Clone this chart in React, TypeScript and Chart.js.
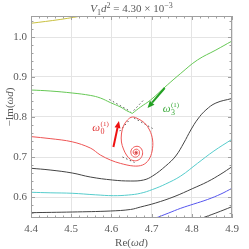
import React, { useEffect, useRef } from "react";
import { Chart, registerables } from "chart.js";

Chart.register(...registerables);

// ---- data ----
const xTicks = [4.4, 4.5, 4.6, 4.7, 4.8, 4.9];
const yTicks = [0.6, 0.7, 0.8, 0.9, 1.0];
const xMinor = [4.42, 4.44, 4.46, 4.48, 4.52, 4.54, 4.56, 4.58, 4.62, 4.64, 4.66, 4.68, 4.72, 4.74, 4.76, 4.78, 4.82, 4.84, 4.86, 4.88];
const yMinor = [0.56, 0.58, 0.62, 0.64, 0.66, 0.68, 0.72, 0.74, 0.76, 0.78, 0.82, 0.84, 0.86, 0.88, 0.92, 0.94, 0.96, 0.98, 1.02, 1.04];

const yellowCurve = [[4.4, 1.0343], [4.4725, 1.0438], [4.5375, 1.0545]];

const greenLeft = [
  [4.4, 0.8675], [4.4475, 0.865], [4.5025, 0.86], [4.5475, 0.854], [4.5725, 0.8475],
  [4.5975, 0.836], [4.6225, 0.825], [4.6375, 0.816], [4.652, 0.809],
];
const greenRight = [
  [4.652, 0.809], [4.6725, 0.825], [4.6975, 0.8425], [4.739, 0.88], [4.7725, 0.909],
  [4.814, 0.9425], [4.86, 0.9675], [4.9, 0.99],
];

const redCurve = [
  [4.4, 0.751], [4.4475, 0.746], [4.5025, 0.738], [4.5475, 0.7225], [4.5725, 0.705],
  [4.5975, 0.6925], [4.6225, 0.684], [4.655, 0.6775], [4.6775, 0.68], [4.6925, 0.6925],
  [4.7013, 0.715], [4.7025, 0.7425], [4.695, 0.7675], [4.6825, 0.785], [4.6675, 0.795],
  [4.652, 0.8], [4.64, 0.7925], [4.63, 0.7775], [4.625, 0.7575], [4.625, 0.7375],
  [4.63, 0.72], [4.6375, 0.705], [4.6475, 0.694], [4.66, 0.6905], [4.6715, 0.6955],
  [4.6775, 0.7075], [4.675, 0.72], [4.6665, 0.7265], [4.6555, 0.7245], [4.6485, 0.715],
  [4.651, 0.704], [4.66, 0.6995], [4.6685, 0.7045], [4.6695, 0.7145], [4.6635, 0.7195],
  [4.6555, 0.7165], [4.6545, 0.7095], [4.66, 0.7055], [4.6655, 0.709], [4.6635, 0.7145],
  [4.659, 0.7135], [4.659, 0.709], [4.6625, 0.709], [4.6613, 0.7105],
];
const spiralCenter = [[4.6613, 0.7105]];

const black1 = [
  [4.4, 0.6718], [4.4475, 0.6675], [4.5025, 0.66], [4.5475, 0.65], [4.6025, 0.6425],
  [4.6475, 0.64], [4.68, 0.6425], [4.7025, 0.6525], [4.735, 0.6775], [4.76, 0.7025],
  [4.78, 0.735], [4.7975, 0.7675], [4.815, 0.795], [4.835, 0.8175], [4.86, 0.835], [4.9, 0.8463],
];
const cyanCurve = [
  [4.4, 0.6118], [4.4475, 0.6105], [4.5025, 0.6093], [4.56, 0.6055], [4.605, 0.6033],
  [4.6425, 0.605], [4.6725, 0.6093], [4.7025, 0.6188], [4.735, 0.6325], [4.7725, 0.6525],
  [4.8143, 0.6843], [4.855, 0.715], [4.9, 0.7443],
];
const black2 = [
  [4.4, 0.5608], [4.5025, 0.5625], [4.5975, 0.565], [4.6475, 0.5688], [4.6725, 0.575],
  [4.71, 0.585], [4.7558, 0.6008], [4.8025, 0.6213], [4.8393, 0.6383], [4.8725, 0.6575], [4.9, 0.6758],
];
const blueCurve = [
  [4.7075, 0.5463], [4.7425, 0.56], [4.7725, 0.5718], [4.805, 0.5825], [4.8393, 0.5938],
  [4.8725, 0.6075], [4.9, 0.6218],
];
const black3 = [[4.8225, 0.5463], [4.86, 0.56], [4.9, 0.5758]];

const dash1 = [[4.595, 0.8438], [4.6475, 0.8138]];
const dash2 = [[4.6555, 0.8163], [4.6813, 0.8438]];
const dash3 = [[4.6563, 0.7975], [4.7025, 0.7713]];
const dash4 = [[4.6425, 0.79], [4.6175, 0.7613]];
const dash5 = [[4.6275, 0.70], [4.6575, 0.6863]];

const redArrow = [[4.605, 0.725], [4.6188, 0.79]];
const greenArrow = [[4.7325, 0.8725], [4.69, 0.8225]];
const redLabelAt = [4.5525, 0.765];
const greenLabelAt = [4.7275, 0.8125];

const titleParts = ["V", "1", "d", "2", " = 4.30 \u00d7 10", "\u22123"];
const xTitle = ["Re(", "\u03c9d", ")"];
const yTitle = ["\u2212Im(", "\u03c9d", ")"];

// ---- styles ----
const FONT = '"Liberation Serif", "DejaVu Serif", serif';
const TEXT = "#5a5a5a";
const GRID = "#e4e4e4";
const FRAME = "#a0a0a0";

const toPts = (arr: number[][]) => arr.map(([x, y]) => ({ x, y }));

type Part = { t: string; italic?: boolean; size: number; dy: number };

function drawRich(ctx: CanvasRenderingContext2D, parts: Part[], x: number, y: number, color: string, align: "left" | "center") {
  let total = 0;
  const widths = parts.map((p) => {
    ctx.font = `${p.italic ? "italic " : ""}${p.size}px ${FONT}`;
    const w = ctx.measureText(p.t).width;
    total += w;
    return w;
  });
  let cx = align === "center" ? x - total / 2 : x;
  ctx.fillStyle = color;
  ctx.textBaseline = "alphabetic";
  ctx.textAlign = "left";
  parts.forEach((p, i) => {
    ctx.font = `${p.italic ? "italic " : ""}${p.size}px ${FONT}`;
    ctx.fillText(p.t, cx, y + p.dy);
    cx += widths[i];
  });
}

function drawArrow(ctx: CanvasRenderingContext2D, x0: number, y0: number, x1: number, y1: number, color: string) {
  const ang = Math.atan2(y1 - y0, x1 - x0);
  const hl = 7, hw = 3;
  const bx = x1 - hl * Math.cos(ang), by = y1 - hl * Math.sin(ang);
  ctx.strokeStyle = color;
  ctx.fillStyle = color;
  ctx.lineWidth = 2;
  ctx.beginPath();
  ctx.moveTo(x0, y0);
  ctx.lineTo(bx, by);
  ctx.stroke();
  ctx.beginPath();
  ctx.moveTo(x1, y1);
  ctx.lineTo(bx + hw * Math.sin(ang), by - hw * Math.cos(ang));
  ctx.lineTo(bx - hw * Math.sin(ang), by + hw * Math.cos(ang));
  ctx.closePath();
  ctx.fill();
}

const overlayPlugin = {
  id: "overlay",
  afterDraw(chart: any) {
    const { ctx, chartArea: a, scales } = chart;
    const sx = scales.x, sy = scales.y;
    ctx.save();
    // frame
    ctx.strokeStyle = FRAME;
    ctx.lineWidth = 1;
    ctx.strokeRect(Math.round(a.left) + 0.5, Math.round(a.top) + 0.5, Math.round(a.right - a.left) - 1, Math.round(a.bottom - a.top) - 1);
    // ticks
    const tick = (vals: number[], len: number) => {
      vals.forEach((v) => {
        const px = Math.round(sx.getPixelForValue(v)) + 0.5;
        ctx.beginPath();
        ctx.moveTo(px, a.bottom); ctx.lineTo(px, a.bottom - len);
        ctx.moveTo(px, a.top); ctx.lineTo(px, a.top + len);
        ctx.stroke();
      });
    };
    const tickY = (vals: number[], len: number) => {
      vals.forEach((v) => {
        const py = Math.round(sy.getPixelForValue(v)) + 0.5;
        ctx.beginPath();
        ctx.moveTo(a.left, py); ctx.lineTo(a.left + len, py);
        ctx.moveTo(a.right, py); ctx.lineTo(a.right - len, py);
        ctx.stroke();
      });
    };
    tick(xTicks, 4); tick(xMinor, 2.5);
    tickY(yTicks, 4); tickY(yMinor, 2.5);

    // arrows
    ctx.save();
    ctx.beginPath();
    ctx.rect(a.left, a.top, a.right - a.left, a.bottom - a.top);
    ctx.clip();
    drawArrow(ctx, sx.getPixelForValue(redArrow[0][0]), sy.getPixelForValue(redArrow[0][1]),
      sx.getPixelForValue(redArrow[1][0]), sy.getPixelForValue(redArrow[1][1]), "#ee1111");
    drawArrow(ctx, sx.getPixelForValue(greenArrow[0][0]), sy.getPixelForValue(greenArrow[0][1]),
      sx.getPixelForValue(greenArrow[1][0]), sy.getPixelForValue(greenArrow[1][1]), "#22a022");
    ctx.restore();

    // omega labels
    const omegaLabel = (at: number[], sub: string, color: string) => {
      const px = sx.getPixelForValue(at[0]);
      const py = sy.getPixelForValue(at[1]);
      ctx.fillStyle = color;
      ctx.textAlign = "left";
      ctx.textBaseline = "alphabetic";
      ctx.font = `italic 11px ${FONT}`;
      ctx.fillText("\u03c9", px, py);
      const w = ctx.measureText("\u03c9").width;
      ctx.font = `8px ${FONT}`;
      ctx.fillText(sub, px + w + 0.5, py + 2.5);
      ctx.font = `7px ${FONT}`;
      ctx.fillText("(1)", px + w + 0.5, py - 5);
    };
    omegaLabel(redLabelAt, "0", "#e03535");
    omegaLabel(greenLabelAt, "3", "#3aaa3a");

    // title
    const cx = (a.left + a.right) / 2;
    drawRich(ctx, [
      { t: titleParts[0], italic: true, size: 11, dy: 0 },
      { t: titleParts[1], size: 8, dy: 2.5 },
      { t: titleParts[2], italic: true, size: 11, dy: 0 },
      { t: titleParts[3], size: 8, dy: -4.5 },
      { t: titleParts[4], size: 11, dy: 0 },
      { t: titleParts[5], size: 8, dy: -4.5 },
    ], cx, 12, TEXT, "center");

    // x title
    drawRich(ctx, [
      { t: xTitle[0], size: 11, dy: 0 },
      { t: xTitle[1], italic: true, size: 11, dy: 0 },
      { t: xTitle[2], size: 11, dy: 0 },
    ], cx, 246, TEXT, "center");

    // y title
    ctx.save();
    ctx.translate(13, (a.top + a.bottom) / 2 - 10);
    ctx.rotate(-Math.PI / 2);
    drawRich(ctx, [
      { t: yTitle[0], size: 11, dy: 0 },
      { t: yTitle[1], italic: true, size: 11, dy: 0 },
      { t: yTitle[2], size: 11, dy: 0 },
    ], 0, 0, TEXT, "center");
    ctx.restore();

    ctx.restore();
  },
};

const line = (pts: number[][], color: string, extra: any = {}) => ({
  data: toPts(pts),
  showLine: true,
  borderColor: color,
  backgroundColor: color,
  borderWidth: 1,
  pointRadius: 0,
  tension: 0.4,
  ...extra,
});

export default function App() {
  const ref = useRef<HTMLCanvasElement | null>(null);
  useEffect(() => {
    document.body.style.margin = "0";
    const canvas = ref.current;
    if (!canvas) return;
    const dashed = { borderDash: [1.5, 2.5], tension: 0, borderColor: "#555555" };
    const chart = new Chart(canvas, {
      type: "scatter",
      data: {
        datasets: [
          line(yellowCurve, "#c9c040"),
          line(greenLeft, "#66c855"),
          line(greenRight, "#66c855"),
          line(black1, "#444444"),
          line(cyanCurve, "#55cccc"),
          line(black2, "#444444"),
          line(blueCurve, "#5555ee"),
          line(black3, "#444444"),
          line(redCurve, "#ee5555", { tension: 0.35 }),
          line(spiralCenter, "#880000", { showLine: false, pointRadius: 0.9, borderWidth: 0 }),
          line(dash1, "#555555", dashed),
          line(dash2, "#555555", dashed),
          line(dash3, "#555555", dashed),
          line(dash4, "#555555", dashed),
          line(dash5, "#555555", dashed),
        ] as any,
      },
      options: {
        animation: false,
        responsive: false,
        maintainAspectRatio: false,
        events: [],
        layout: { padding: { top: 16, right: 17, left: 0, bottom: 0 } },
        plugins: { legend: { display: false }, tooltip: { enabled: false }, title: { display: false } },
        scales: {
          x: {
            type: "linear",
            min: 4.4,
            max: 4.9,
            afterBuildTicks: (s: any) => { s.ticks = xTicks.map((v) => ({ value: v })); },
            afterFit: (s: any) => { s.height = 31; },
            grid: { color: GRID, drawTicks: false },
            border: { display: false },
            ticks: {
              padding: 5,
              color: TEXT,
              font: { family: FONT, size: 11 },
              maxRotation: 0,
              autoSkip: false,
              callback: (v: any) => Number(v).toFixed(1),
            },
          },
          y: {
            type: "linear",
            min: 0.5475,
            max: 1.0525,
            afterBuildTicks: (s: any) => { s.ticks = yTicks.map((v) => ({ value: v })); },
            afterFit: (s: any) => { s.width = 31; },
            grid: { color: GRID, drawTicks: false },
            border: { display: false },
            ticks: {
              padding: 4,
              color: TEXT,
              font: { family: FONT, size: 11 },
              autoSkip: false,
              callback: (v: any) => Number(v).toFixed(1),
            },
          },
        },
      } as any,
      plugins: [overlayPlugin],
    });
    return () => chart.destroy();
  }, []);
  return <canvas ref={ref} width={249} height={249} style={{ display: "block" }} />;
}
